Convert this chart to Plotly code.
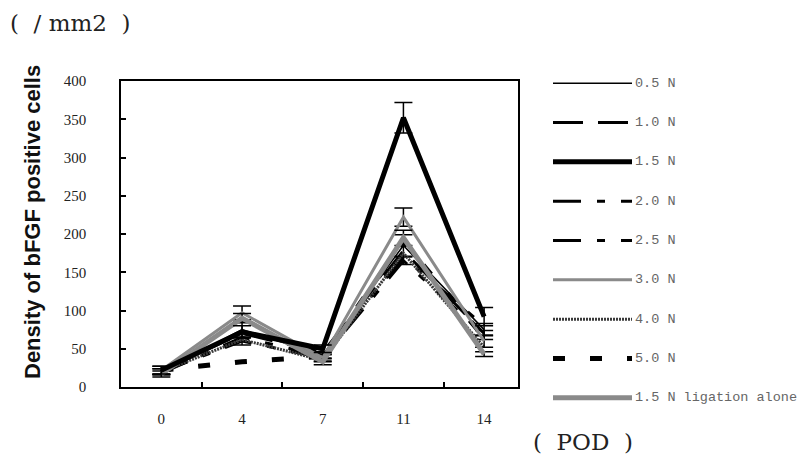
import plotly.graph_objects as go

W, H = 801, 459

days = ["0", "4", "7", "11", "14"]

names = ["0.5 N", "1.0 N", "1.5 N", "2.0 N", "2.5 N", "3.0 N", "4.0 N", "5.0 N", "1.5 N ligation alone"]

v_05 = [20, 75, 42, 185, 75]
v_10 = [22, 70, 45, 178, 70]
v_15 = [22, 72, 50, 352, 92]
v_20 = [18, 65, 40, 170, 80]
v_25 = [20, 60, 38, 165, 68]
v_30 = [22, 97, 38, 222, 60]
v_40 = [20, 62, 35, 175, 52]
v_50 = [22, 33, 40, 190, 65]
v_lig = [17, 90, 33, 195, 43]

e_05 = [4, 10, 4, 14, 8]
e_15 = [5, 8, 5, 20, 12]
e_30 = [5, 9, 5, 12, 8]
e_lig = [4, 6, 4, 10, 3]
e_25 = [4, 5, 4, 5, 6]

values = [v_05, v_10, v_15, v_20, v_25, v_30, v_40, v_50, v_lig]
errors = [e_05, None, e_15, None, e_25, e_30, None, None, e_lig]

styles = [
    dict(color="#000000", width=1.5, dash="solid"),
    dict(color="#000000", width=3, dash="30px,15px"),
    dict(color="#000000", width=5, dash="solid"),
    dict(color="#000000", width=3, dash="28px,16px,8px,16px"),
    dict(color="#000000", width=3, dash="28px,16px,8px,16px"),
    dict(color="#8a8a8a", width=3, dash="solid"),
    dict(color="#3a3a3a", width=3, dash="2px,1px"),
    dict(color="#000000", width=5, dash="12px,25px"),
    dict(color="#8a8a8a", width=5, dash="solid"),
]

draw_order = [0, 1, 3, 4, 6, 7, 5, 8, 2]

# plot area in pixels
x0, x1 = 121, 518
y0, y1 = 81, 387

fig = go.Figure()

for i in draw_order:
    tr = dict(
        x=days, y=values[i], mode="lines", name=names[i],
        line=styles[i], showlegend=False, xaxis="x", yaxis="y",
    )
    if errors[i] is not None:
        tr["error_y"] = dict(type="data", array=errors[i], color="#000000",
                             thickness=1.5, width=9)
    fig.add_trace(go.Scatter(**tr))

# legend keys drawn on a separate small axis
for i, n in enumerate(names):
    fig.add_trace(go.Scatter(
        x=[0, 1], y=[i, i], mode="lines", line=styles[i],
        showlegend=False, xaxis="x2", yaxis="y2", hoverinfo="skip",
    ))
    fig.add_annotation(
        x=1, y=i, xref="x2", yref="y2", text=n, showarrow=False,
        xanchor="left", yanchor="middle", xshift=1,
        font=dict(family="Liberation Mono", size=13.5, color="#666666"),
    )

serif = "Liberation Serif"
serif2 = "DejaVu Serif"

fig.update_layout(
    width=W, height=H,
    margin=dict(l=0, r=0, t=0, b=0),
    paper_bgcolor="white", plot_bgcolor="white",
    xaxis=dict(
        domain=[x0 / W, x1 / W], type="category", range=[-0.5, 4.42],
        showline=True, linecolor="black", linewidth=1.5, mirror=True,
        ticks="inside", ticklen=5, tickwidth=1.5, tickcolor="black",
        tickson="boundaries", showgrid=False, zeroline=False,
        tickfont=dict(family=serif, size=15, color="#222222"),
        ticklabelstandoff=17, automargin=False, fixedrange=True,
    ),
    yaxis=dict(
        domain=[1 - y1 / H, 1 - y0 / H], range=[0, 400], dtick=50,
        showline=True, linecolor="black", linewidth=1.5, mirror=True,
        ticks="inside", ticklen=5, tickwidth=1.5, tickcolor="black",
        showgrid=False, zeroline=False,
        tickfont=dict(family=serif, size=15, color="#222222"),
        ticklabelstandoff=30, automargin=False, fixedrange=True,
    ),
    xaxis2=dict(
        domain=[553 / W, 632 / W], range=[0, 1], visible=False,
        anchor="y2", fixedrange=True,
    ),
    yaxis2=dict(
        domain=[1 - 417.5 / H, 1 - 63.5 / H], range=[8.5, -0.5], visible=False,
        anchor="x2", fixedrange=True,
    ),
    annotations=list(fig.layout.annotations) + [
        dict(text="(  / mm2  )", x=8 / W, y=1 - 23 / H, xref="paper", yref="paper",
             xanchor="left", yanchor="middle", showarrow=False,
             font=dict(family=serif2, size=23, color="#222222")),
        dict(text="(  POD  )", x=531 / W, y=1 - 442 / H, xref="paper", yref="paper",
             xanchor="left", yanchor="middle", showarrow=False,
             font=dict(family=serif2, size=23, color="#222222")),
        dict(text="<b>Density of bFGF positive cells</b>", x=32 / W, y=1 - 222 / H,
             xref="paper", yref="paper", xanchor="center", yanchor="middle",
             showarrow=False, textangle=-90,
             font=dict(family="Liberation Sans", size=22, color="#111111")),
    ],
)

fig.write_html("out.html",
               config={"displayModeBar": False},
               post_script="document.body.style.margin='0';document.body.style.overflow='hidden';")
